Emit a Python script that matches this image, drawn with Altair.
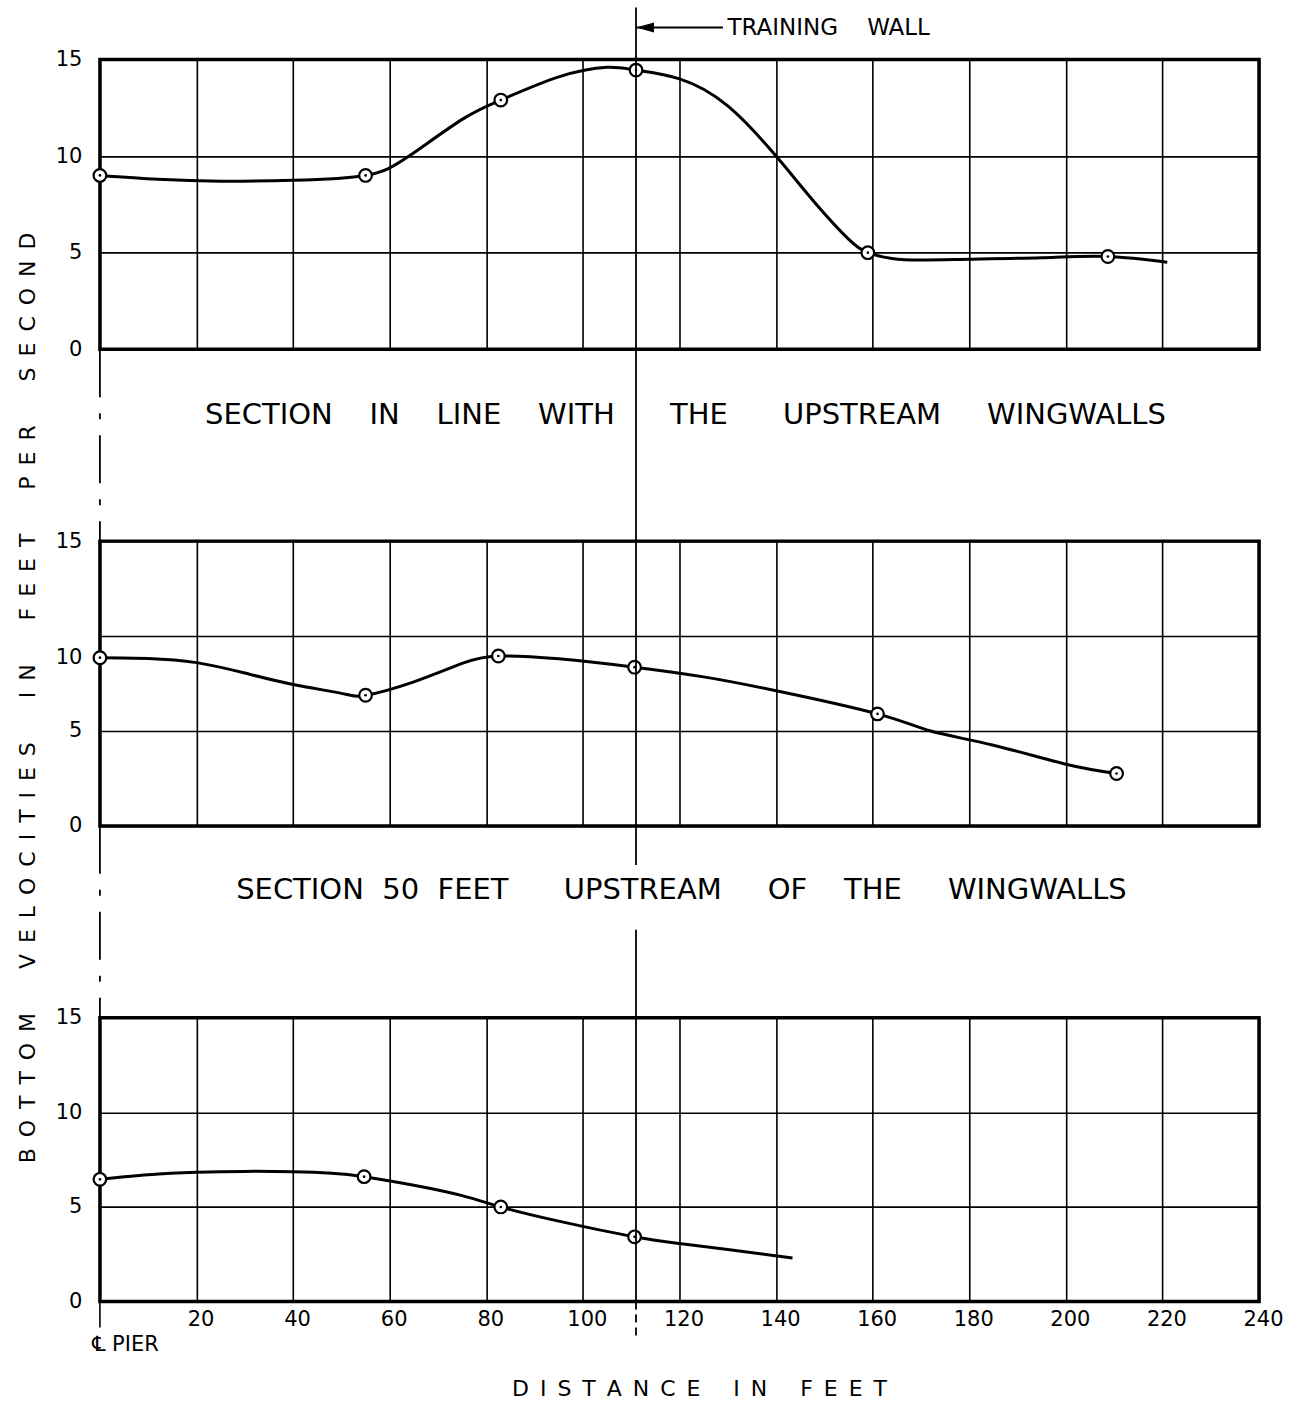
import altair as alt
import pandas as pd

FONT = "DejaVu Sans"

# ---------------- data ----------------
x_ticks = [0, 20, 40, 60, 80, 100, 120, 140, 160, 180, 200, 220, 240]
y_ticks = [0, 5, 10, 15]
wall_x = 111          # training wall location (ft)
arrow_tail_x = 129    # end of arrow shaft (ft)

# Section in line with the upstream wingwalls
top_obs_x = [0, 55, 83, 111, 159, 208.7]
top_obs_y = [9.0, 9.0, 12.9, 14.45, 5.0, 4.8]
top_curve_x = [0, 12, 25, 40, 55, 64, 75, 83, 95, 105, 111, 120, 130, 140, 148, 155, 159, 164, 170, 180, 195, 208.7, 221]
top_curve_y = [9.0, 8.8, 8.7, 8.75, 9.0, 10.0, 11.9, 12.9, 14.1, 14.6, 14.45, 14.0, 12.6, 10.0, 7.6, 5.7, 5.0, 4.7, 4.62, 4.66, 4.74, 4.8, 4.5]

# Section 50 feet upstream of the wingwalls
mid_obs_x = [0, 55, 82.5, 110.7, 161, 210.5]
mid_obs_y = [8.86, 6.88, 8.95, 8.36, 5.9, 2.76]
mid_curve_x = [0, 10, 20, 30, 40, 50, 55, 65, 75, 82.5, 95, 110.7, 125, 140, 161, 172, 185, 200, 210.5]
mid_curve_y = [8.86, 8.82, 8.6, 8.05, 7.45, 6.98, 6.88, 7.59, 8.56, 8.95, 8.8, 8.36, 7.85, 7.12, 5.9, 5.0, 4.25, 3.25, 2.76]

# Bottom section
bot_obs_x = [0, 54.7, 83, 110.7]
bot_obs_y = [6.46, 6.6, 5.0, 3.42]
bot_curve_x = [0, 10, 20, 30, 40, 48, 54.7, 65, 75, 83, 95, 110.7, 120, 130, 143.4]
bot_curve_y = [6.46, 6.7, 6.83, 6.88, 6.86, 6.78, 6.6, 6.15, 5.6, 5.0, 4.25, 3.42, 3.07, 2.75, 2.3]

# ---------------- texts ----------------
NB = "\u00a0"
EN = "\u2002"

def gap(n):
    return NB * n

caption_top = ("SECTION" + gap(4) + "IN" + gap(4) + "LINE" + gap(4) + "WITH" + gap(6) +
               "THE" + gap(6) + "UPSTREAM" + gap(5) + "WINGWALLS")
caption_mid = ("SECTION" + gap(2) + "50" + gap(2) + "FEET" + gap(6) + "UPSTREAM" + gap(5) +
               "OF" + gap(4) + "THE" + gap(5) + "WINGWALLS")
wall_label = "TRAINING" + gap(4) + "WALL"

def spaced(words, word_gap):
    return word_gap.join(EN.join(list(w)) for w in words)

y_title = spaced(["BOTTOM", "VELOCITIES", "IN", "FEET", "PER", "SECOND"], EN * 4)
x_title = spaced(["DISTANCE", "IN", "FEET"], EN * 3)
pier_label = "\u2104" + NB + "PIER"

W = 1160
H_TOP, H_MID, H_BOT = 290, 285, 284
GAP = 192


def xenc(show_labels):
    return alt.X(
        "x:Q",
        scale=alt.Scale(domain=[0, 240], nice=False, zero=False),
        axis=alt.Axis(
            values=x_ticks, grid=True, gridColor="black", gridWidth=1.6, gridOpacity=1,
            ticks=False, domain=False, title=None, labels=show_labels,
            labelExpr="datum.value == 0 ? '' : datum.label",
            labelFontSize=21, labelPadding=7, labelOffset=4, labelFlush=False, labelOverlap=False,
            labelColor="black", labelFont=FONT,
        ),
    )


def yenc(ten_offset=0):
    extra = {}
    if ten_offset:
        extra["labelOffset"] = {"condition": {"test": "datum.value == 10", "value": ten_offset}, "value": 0}
    return alt.Y(
        "y:Q",
        scale=alt.Scale(domain=[0, 15], nice=False, zero=False),
        axis=alt.Axis(
            values=y_ticks, grid=True, gridColor="black", gridWidth=1.6, gridOpacity=1,
            ticks=False, domain=False, title=None, labelFontSize=21, labelPadding=18,
            labelFlush=False, labelColor="black", labelFont=FONT, **extra,
        ),
    )


def data_layers(cx, cy, ox, oy, show_labels, ten_offset=0):
    curve = pd.DataFrame({"x": cx, "y": cy})
    obs = pd.DataFrame({"x": ox, "y": oy})
    line = alt.Chart(curve).mark_line(interpolate="natural", color="black", strokeWidth=3).encode(
        x=xenc(show_labels), y=yenc(ten_offset))
    rings = alt.Chart(obs).mark_point(shape="circle", filled=True, fill="white", stroke="black",
                                      strokeWidth=2.2, size=160, opacity=1).encode(
        x=xenc(show_labels), y=yenc(ten_offset))
    dots = alt.Chart(obs).mark_point(shape="circle", filled=True, color="black", size=7, opacity=1).encode(
        x=xenc(show_labels), y=yenc(ten_offset))
    return [line, rings, dots]


def vrule(xv, y1, y2, dash=None, width=1.8):
    kw = dict(color="black", strokeWidth=width)
    if dash:
        kw["strokeDash"] = dash
    return alt.Chart(pd.DataFrame({"k": [0]})).mark_rule(**kw).encode(
        x=alt.datum(xv), y=alt.value(y1), y2=alt.value(y2))


def label(text, x, y, size, align="center", angle=None):
    kw = dict(font=FONT, fontSize=size, color="black", align=align, baseline="middle")
    if angle is not None:
        kw["angle"] = angle
    return alt.Chart(pd.DataFrame({"t": [text]})).mark_text(**kw).encode(
        text="t:N", x=alt.value(x), y=alt.value(y))


CENTER_DASH = [48, 16, 6, 16]

# ---- top panel ----
top_layers = data_layers(top_curve_x, top_curve_y, top_obs_x, top_obs_y, False)
arrow_shaft = alt.Chart(pd.DataFrame({"k": [0]})).mark_rule(color="black", strokeWidth=1.8).encode(
    x=alt.datum(wall_x), x2=alt.datum(arrow_tail_x), y=alt.value(-32))
arrow_head = alt.Chart(pd.DataFrame({"k": [0]})).mark_point(
    shape="M 0 0 L 2 -0.55 L 2 0.55 Z", filled=True, color="black", size=324, opacity=1).encode(
    x=alt.datum(wall_x), y=alt.value(-32))
top = alt.layer(
    *top_layers,
    vrule(wall_x, -52, H_TOP + GAP),
    vrule(0, H_TOP, H_TOP + GAP, CENTER_DASH),
    arrow_shaft, arrow_head,
    label(wall_label, 628, -32, 23, align="left"),
    label(caption_top, 586, 356, 29),
).properties(width=W, height=H_TOP)

# ---- middle panel ----
mid_layers = data_layers(mid_curve_x, mid_curve_y, mid_obs_x, mid_obs_y, False, ten_offset=21)
mid = alt.layer(
    *mid_layers,
    vrule(wall_x, 0, 324),
    vrule(wall_x, 389, H_MID + GAP),
    vrule(0, H_MID, H_MID + GAP, CENTER_DASH),
    label(caption_mid, 582, 349, 29),
    label(y_title, -72, 157, 22, angle=270),
).properties(width=W, height=H_MID)

# ---- bottom panel ----
bot_layers = data_layers(bot_curve_x, bot_curve_y, bot_obs_x, bot_obs_y, True)
bot = alt.layer(
    *bot_layers,
    vrule(wall_x, 0, H_BOT),
    vrule(wall_x, H_BOT, H_BOT + 34, [8, 5]),
    vrule(0, H_BOT, H_BOT + 26, None, 1.6),
    label(pier_label, -8, 327, 21, align="left"),
    label(x_title, 600, 372, 22),
).properties(width=W, height=H_BOT)

chart = alt.vconcat(top, mid, bot, spacing=GAP, bounds="flush").configure_view(
    stroke="black", strokeWidth=3.5
).configure_axis(labelFont=FONT, labelColor="black").properties(
    padding={"left": 15, "top": 4, "right": 24, "bottom": 4},
    background="white",
)

chart.save("out.html", embed_options={"renderer": "svg", "actions": False})
